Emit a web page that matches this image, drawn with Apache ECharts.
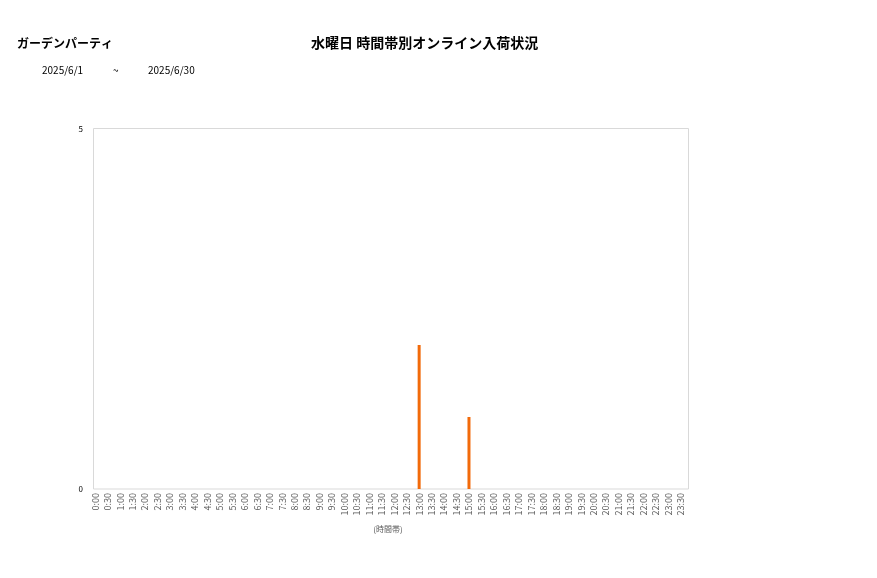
<!DOCTYPE html>
<html>
<head>
<meta charset="utf-8">
<script src="https://cdn.jsdelivr.net/npm/echarts@6/dist/echarts.min.js"></script>
<style>
html,body{margin:0;padding:0;background:#fff;}
#c{width:877px;height:578px;}
</style>
</head>
<body>
<div id="c"></div>
<script>
const categories = [];
const hours = Array.from({length:24},(_,h)=>h);
hours.forEach(h=>{categories.push(h+':00');categories.push(h+':30');});
const values = [0,0,0,0,0,0,0,0,0,0,0,0,0,0,0,0,0,0,0,0,0,0,0,0,0,0,2,0,0,0,1,0,0,0,0,0,0,0,0,0,0,0,0,0,0,0,0,0];
const yTicks = [0,5];
const shopName = 'ガーデンパーティ';
const chartTitle = '水曜日 時間帯別オンライン入荷状況';
const dateFrom = '2025/6/1';
const dateTo = '2025/6/30';
const xName = '(時間帯)';

const font = '"Noto Sans CJK JP","Noto Sans",sans-serif';
const chart = echarts.init(document.getElementById('c'));
chart.setOption({
  animation:false,
  backgroundColor:'#fff',
  textStyle:{fontFamily:font},
  graphic:[
    {type:'rect',z:-1,shape:{x:93.5,y:128.5,width:595,height:360.5},style:{fill:'none',stroke:'#d9d9d9',lineWidth:1}},
    {type:'text',left:17,top:37,style:{text:shopName,font:'bold 12px '+font,fill:'#000'}},
    {type:'text',left:311,top:36,style:{text:chartTitle,font:'bold 14px '+font,fill:'#000'}},
    {type:'text',left:42,top:65,style:{text:dateFrom,font:'10px '+font,fill:'#000'}},
    {type:'text',left:113,top:65,style:{text:'~',font:'10px '+font,fill:'#000'}},
    {type:'text',left:148,top:65,style:{text:dateTo,font:'10px '+font,fill:'#000'}}
  ],
  grid:{left:89,top:129,right:190,bottom:89,show:false,containLabel:false},
  xAxis:{
    type:'category',data:categories,
    name:xName,nameLocation:'middle',nameGap:36,
    nameTextStyle:{fontSize:8,color:'#595959',fontFamily:font},
    axisLine:{show:false},
    axisTick:{show:false},
    axisLabel:{interval:0,rotate:90,fontSize:9,color:'#595959',margin:4,fontFamily:font}
  },
  yAxis:{
    type:'value',min:yTicks[0],max:yTicks[1],interval:5,
    axisLine:{show:false},axisTick:{show:false},splitLine:{show:false},
    axisLabel:{fontSize:8,color:'#000',margin:6,fontFamily:font}
  },
  series:[{type:'bar',data:values,barWidth:3,itemStyle:{color:'#F26A0A'}}]
});
</script>
</body>
</html>
